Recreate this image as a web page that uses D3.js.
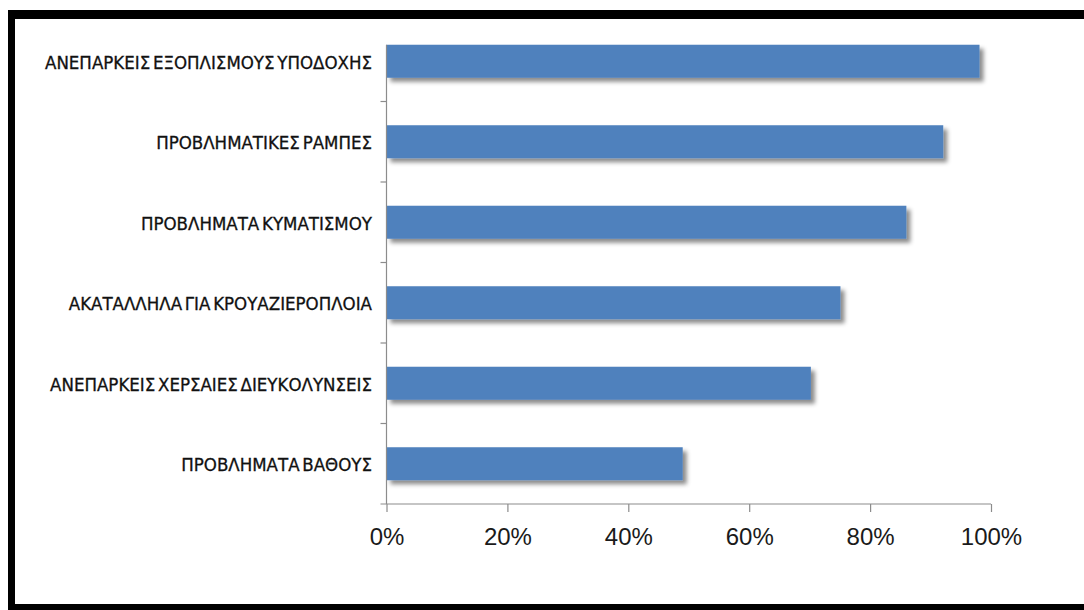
<!DOCTYPE html>
<html>
<head>
<meta charset="utf-8">
<script src="https://cdn.jsdelivr.net/npm/d3@7"></script>
<style>
  html, body { margin: 0; padding: 0; background: #fff; }
  svg { display: block; }
</style>
</head>
<body>
<svg id="chart" width="1084" height="610"></svg>
<script>
// Problem categories, top to bottom
const categories = [
  "ΑΝΕΠΑΡΚΕΙΣ ΕΞΟΠΛΙΣΜΟΥΣ ΥΠΟΔΟΧΗΣ",
  "ΠΡΟΒΛΗΜΑΤΙΚΕΣ ΡΑΜΠΕΣ",
  "ΠΡΟΒΛΗΜΑΤΑ ΚΥΜΑΤΙΣΜΟΥ",
  "ΑΚΑΤΑΛΛΗΛΑ ΓΙΑ ΚΡΟΥΑΖΙΕΡΟΠΛΟΙΑ",
  "ΑΝΕΠΑΡΚΕΙΣ ΧΕΡΣΑΙΕΣ ΔΙΕΥΚΟΛΥΝΣΕΙΣ",
  "ΠΡΟΒΛΗΜΑΤΑ ΒΑΘΟΥΣ"
];
// Share of ports reporting each problem
const values = [0.981, 0.921, 0.860, 0.751, 0.702, 0.490];
// Axis ticks
const xTicks = [0, 0.2, 0.4, 0.6, 0.8, 1.0];

const svg = d3.select("#chart");

// Frame (left, top, bottom edges)
const frame = svg.append("g").attr("fill", "#000");
frame.append("rect").attr("x", 8).attr("y", 10).attr("width", 1076).attr("height", 9);
frame.append("rect").attr("x", 8).attr("y", 10).attr("width", 7).attr("height", 600);
frame.append("rect").attr("x", 8).attr("y", 604).attr("width", 1076).attr("height", 6);

// Scales
const x = d3.scaleLinear().domain([0, 1]).range([386.5, 991]);
const y = d3.scaleBand().domain(categories).range([21, 504])
  .paddingInner(0.59).paddingOuter(0.295);

// Drop shadow for bars
const defs = svg.append("defs");
const f = defs.append("filter").attr("id", "shadow")
  .attr("x", "-5%").attr("y", "-30%").attr("width", "115%").attr("height", "180%");
f.append("feDropShadow").attr("dx", 4).attr("dy", 4).attr("stdDeviation", 2.2)
  .attr("flood-color", "#000").attr("flood-opacity", 0.45);

// Bars
svg.append("g").selectAll("rect").data(categories).join("rect")
  .attr("x", x(0))
  .attr("y", d => y(d))
  .attr("width", (d, i) => x(values[i]) - x(0))
  .attr("height", y.bandwidth())
  .attr("fill", "#4F81BD")
  .attr("filter", "url(#shadow)");

// Category axis: vertical line and ticks between categories
const axisColor = "#8c8c8c";
const step = y.step();
const firstTop = y(categories[0]);
svg.append("line")
  .attr("x1", x(0)).attr("x2", x(0))
  .attr("y1", firstTop).attr("y2", 504)
  .attr("stroke", axisColor).attr("stroke-width", 1.2);
const boundaries = d3.range(1, categories.length).map(i => y.range()[0] + i * step);
svg.append("g").selectAll("line").data(boundaries).join("line")
  .attr("x1", x(0) - 6).attr("x2", x(0))
  .attr("y1", d => d).attr("y2", d => d)
  .attr("stroke", axisColor).attr("stroke-width", 1.2);

// Category labels
svg.append("g").selectAll("text").data(categories).join("text")
  .attr("x", 372)
  .attr("y", d => y(d) + y.bandwidth() / 2 + 1)
  .attr("text-anchor", "end")
  .attr("dominant-baseline", "central")
  .attr("font-family", "'Liberation Sans Narrow', 'Arial Narrow', 'DejaVu Sans Condensed', sans-serif")
  .attr("font-size", 18.5)
  .attr("word-spacing", -2.5)
  .attr("fill", "#111")
  .attr("stroke", "#111")
  .attr("stroke-width", 0.3)
  .text(d => d);

// Value axis
const xAxis = d3.axisBottom(x)
  .tickValues(xTicks)
  .tickFormat(d3.format(".0%"))
  .tickSize(8)
  .tickSizeOuter(0)
  .tickPadding(16);
const gx = svg.append("g").attr("transform", "translate(0,504)").call(xAxis);
gx.select(".domain").remove();
gx.selectAll(".tick line").attr("stroke", axisColor).attr("stroke-width", 1.2);
gx.selectAll(".tick text")
  .attr("font-family", "'Liberation Sans', Arial, sans-serif")
  .attr("font-size", 24)
  .attr("fill", "#1a1a1a");
gx.insert("line", ":first-child")
  .attr("x1", x(0) - 6).attr("x2", x(1))
  .attr("y1", 0).attr("y2", 0)
  .attr("stroke", axisColor).attr("stroke-width", 1.2);
</script>
</body>
</html>
